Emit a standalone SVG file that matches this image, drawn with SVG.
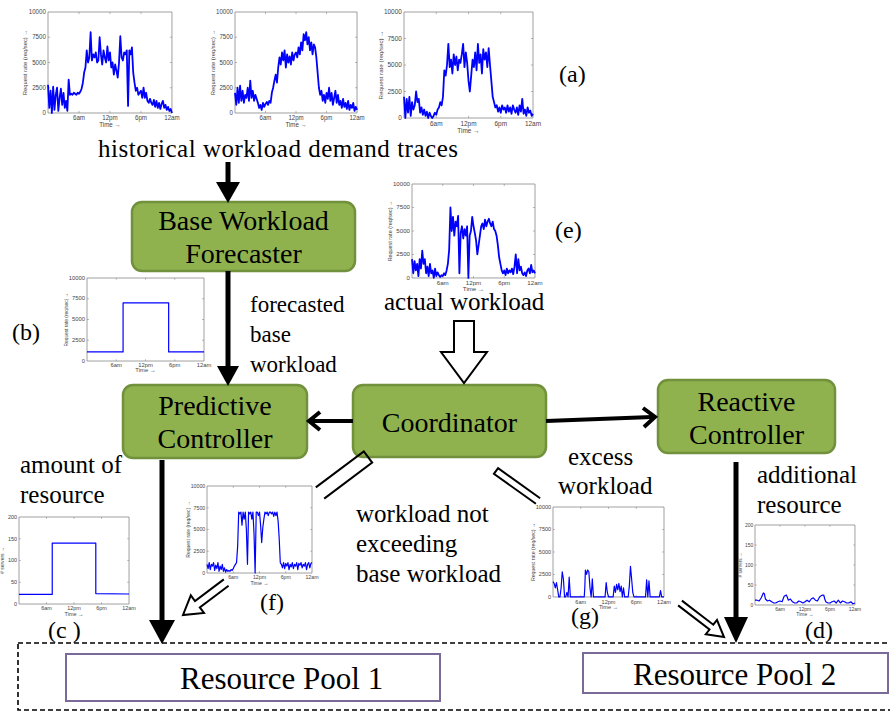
<svg xmlns="http://www.w3.org/2000/svg" xmlns:xlink="http://www.w3.org/1999/xlink" width="890" height="712" viewBox="0 0 890 712">
<style>
.t{font-family:"Liberation Serif","Times New Roman",serif;font-size:25px;fill:#000}
.bx{font-size:28px}
.pl{font-size:31px}
.box{fill:#8fb24f;stroke:#72913c;stroke-width:2.5}
.pool{fill:#fff;stroke:#7a6a9a;stroke-width:2}
.tk{font-family:"Liberation Sans",Arial,sans-serif;font-size:6px;fill:#444}
.ax{fill:#fff;stroke:#888;stroke-width:0.8;vector-effect:non-scaling-stroke}
.tick{fill:none;stroke:#888;stroke-width:0.6;vector-effect:non-scaling-stroke}
.dat{fill:none;stroke:#0000ff;stroke-width:1.8;vector-effect:non-scaling-stroke;stroke-linejoin:round}
.ds{stroke-width:1.2}
.ln{stroke:#000;stroke-width:5;fill:none}
.ch{stroke:#000;stroke-width:4;fill:none}
.hol{fill:#fff;stroke:#000;stroke-width:2;stroke-linejoin:miter}
.opn{fill:none;stroke:#000;stroke-width:2}
</style>
<defs>
<g id="frameBase">
<rect class="ax" width="120" height="95"/>
<path class="tick" d="M30,95v-2M60,95v-2M90,95v-2M30,0v2M60,0v2M90,0v2M0,23.75h2M0,47.5h2M0,71.25h2M120,23.75h-2M120,47.5h-2M120,71.25h-2"/>
<g class="tk" text-anchor="middle">
<text x="30" y="102">6am</text><text x="60" y="102">12pm</text><text x="90" y="102">6pm</text><text x="120" y="102">12am</text>
<text x="60" y="108">Time →</text>
</g>
</g>
<g id="frameR">
<use xlink:href="#frameBase"/>
<g class="tk" text-anchor="end">
<text x="-2" y="2">10000</text><text x="-2" y="25.75">7500</text><text x="-2" y="49.5">5000</text><text x="-2" y="73.25">2500</text><text x="-2" y="97">0</text>
</g>
<text class="tk" style="font-size:5.5px" text-anchor="middle" transform="translate(-20,47.5) rotate(-90)">Request rate (req/sec) →</text>
</g>
<g id="frameS">
<use xlink:href="#frameBase"/>
<g class="tk" text-anchor="end">
<text x="-2" y="2">200</text><text x="-2" y="25.75">150</text><text x="-2" y="49.5">100</text><text x="-2" y="73.25">50</text><text x="-2" y="97">0</text>
</g>
<text class="tk" style="font-size:5.5px" text-anchor="middle" transform="translate(-16,47.5) rotate(-90)"># servers →</text>
</g>
</defs>
<rect width="890" height="712" fill="#fff"/>

<!-- plots -->
<g id="plot-a1" transform="translate(48,12) scale(1.033,1.063)">
<use xlink:href="#frameR"/>
<polyline class="dat" transform="translate(0,95) scale(1.25,-0.95)" points="0,28 1,5 2,22 3,0 4,26 5,3 6,18 7,25 8,2 9,15 10,24 11,8 12,20 13,5 14,12 15,2 16,33 17,18 18,19 19,18 20,20 21,19 22,18 23,20 24,19 25,21 26,24 27,30 28,40 29,45 30,62 31,50 32,55 33,80 34,52 35,58 36,55 37,60 38,50 39,52 40,75 41,58 42,48 43,62 44,55 45,50 46,66 47,52 48,60 49,45 50,50 51,38 52,48 53,42 54,35 55,50 56,76 57,55 58,52 59,60 60,58 61,62 62,7 63,62 64,58 65,65 66,40 67,30 68,22 69,25 70,18 71,20 72,22 73,15 74,25 75,15 76,20 77,12 78,10 79,14 80,10 81,8 82,13 83,6 84,12 85,5 86,10 87,4 88,9 89,12 90,5 91,8 92,3 93,6 94,2 95,4 96,0"/>
</g>
<g id="plot-a2" transform="translate(235,12) scale(1.017,1.063)">
<use xlink:href="#frameR"/>
<polyline class="dat" transform="translate(0,95) scale(1.25,-0.95)" points="0,20 1,8 2,25 3,10 4,27 5,12 6,22 7,10 8,18 9,15 10,25 11,12 12,32 13,15 14,22 15,12 16,18 17,14 18,10 19,5 20,8 21,3 22,10 23,6 24,9 25,11 26,8 27,12 28,10 29,20 30,25 31,32 32,38 33,30 34,45 35,55 36,48 37,60 38,52 39,62 40,45 41,58 42,50 43,56 44,48 45,60 46,52 47,58 48,60 49,55 50,65 51,58 52,70 53,62 54,78 55,72 56,80 57,68 58,75 59,62 60,70 61,58 62,68 63,65 64,55 65,40 66,25 67,18 68,22 69,12 70,18 71,10 72,20 73,14 74,25 75,12 76,20 77,8 78,15 79,22 80,10 81,18 82,8 83,12 84,5 85,14 86,6 87,10 88,4 89,12 90,3 91,8 92,5 93,10 94,2 95,6 96,3"/>
</g>
<g id="plot-a3" transform="translate(404,12) scale(1.075,1.116)">
<use xlink:href="#frameR"/>
<polyline class="dat" transform="translate(0,95) scale(1.25,-0.95)" points="0,20 1,0 2,18 3,5 4,20 5,2 6,15 7,8 8,12 9,25 10,15 11,18 12,5 13,10 14,3 15,8 16,2 17,6 18,0 19,5 20,2 21,0 22,2 23,5 24,3 25,8 26,10 27,15 28,12 29,20 30,45 31,40 32,50 33,70 34,48 35,55 36,42 37,60 38,50 39,58 40,45 41,55 42,52 43,60 44,70 45,48 46,62 47,52 48,35 49,25 50,40 51,55 52,48 53,62 54,45 55,70 56,52 57,60 58,42 59,65 60,55 61,62 62,48 63,66 64,50 65,35 66,20 67,15 68,10 69,12 70,6 71,10 72,5 73,12 74,8 75,10 76,5 77,12 78,6 79,10 80,4 81,12 82,8 83,5 84,10 85,3 86,12 87,6 88,18 89,4 90,8 91,2 92,10 93,5 94,7 95,2 96,4"/>
</g>
<g id="plot-e" transform="translate(412,184) scale(1.025,0.989)">
<use xlink:href="#frameR"/>
<polyline class="dat" transform="translate(0,95) scale(1.25,-0.95)" points="0,20 1,5 2,18 3,8 4,15 5,2 6,20 7,10 8,29 9,15 10,20 11,5 12,12 13,2 14,15 15,5 16,8 17,0 18,10 19,2 20,6 21,3 22,1 23,3 24,2 25,5 26,3 27,8 28,15 29,30 30,75 31,50 32,65 33,45 34,60 35,55 36,66 37,5 38,48 39,55 40,42 41,52 42,45 43,55 44,0 45,45 46,50 47,65 48,55 49,48 50,40 51,25 52,35 53,45 54,55 55,58 56,52 57,62 58,55 59,60 60,63 61,58 62,55 63,60 64,52 65,50 66,45 67,35 68,22 69,15 70,8 71,5 72,8 73,3 74,10 75,5 76,8 77,6 78,10 79,4 80,12 81,25 82,5 83,20 84,8 85,12 86,5 87,3 88,6 89,2 90,8 91,10 92,5 93,14 94,6 95,8 96,5"/>
</g>
<g id="plot-b" transform="translate(87,278) scale(0.975,0.874)">
<use xlink:href="#frameR"/>
<polyline class="dat ds" transform="translate(0,95) scale(1.25,-0.95)" points="0,11 29.6,11 29.6,70 67,70 67,11 96,11"/>
</g>
<g id="plot-c" transform="translate(19,517) scale(0.917,0.916)">
<use xlink:href="#frameS"/>
<polyline class="dat ds" transform="translate(0,95) scale(1.25,-0.475)" points="0,22 29,22 29,140 67,140 67,24 96,23"/>
</g>
<g id="plot-f" transform="translate(207,486) scale(0.875,0.916)">
<use xlink:href="#frameR"/>
<polyline class="dat ds" transform="translate(0,95) scale(1.25,-0.95)" points="0,10 1,5 2,12 3,4 4,10 5,8 6,12 7,3 8,9 9,5 10,12 11,2 12,8 13,4 14,10 15,2 16,6 17,1 18,4 19,2 20,3 21,2 22,4 23,3 24,5 25,8 26,10 27,12 28,30 29,70 30,68 31,70 32,55 33,70 34,62 35,70 36,50 37,10 38,70 39,68 40,70 41,62 42,70 43,45 44,0 45,70 46,70 47,66 48,70 49,55 50,35 51,52 52,62 53,70 54,68 55,70 56,66 57,70 58,70 59,68 60,70 61,65 62,70 63,66 64,70 65,60 66,40 67,12 68,10 69,6 70,12 71,5 72,11 73,8 74,12 75,4 76,10 77,7 78,12 79,5 80,10 81,8 82,12 83,4 84,11 85,9 86,12 87,6 88,10 89,8 90,12 91,4 92,10 93,12 94,6 95,11 96,12"/>
</g>
<g id="plot-g" transform="translate(553,507) scale(0.925,0.947)">
<use xlink:href="#frameR"/>
<polyline class="dat ds" transform="translate(0,95) scale(1.25,-0.95)" points="0,17 1,15 2,10 3,16 4,8 5,0 6,0 7,10 8,28 9,20 10,0 11,0 12,5 13,0 14,22 15,0 16,0 27,0 27.5,10 28,30 29,25 30,30 31,28 32,10 33,0 34,20 35,0 45,0 46,16 47,5 48,0 52,0 53,12 54,5 55,14 56,8 57,15 58,6 59,12 60,0 61,10 62,0 65,0 66,12 67,34 68,20 69,5 70,0 80,0 81,19 82,0 83,18 84,0 92,0 93,7 94,0 96,0"/>
</g>
<g id="plot-d" transform="translate(755,525) scale(0.833,0.842)">
<use xlink:href="#frameS"/>
<polyline class="dat ds" transform="translate(0,95) scale(1.25,-0.475)" points="0,12 2,12 4,10 6,18 8,30 9,28 10,15 12,10 14,12 16,8 18,5 20,5 22,8 24,10 26,8 28,22 30,25 31,20 32,12 34,15 36,8 38,5 40,5 42,10 44,8 46,5 48,8 50,12 52,8 54,15 56,18 58,12 60,10 62,20 64,24 66,25 67,15 68,8 70,5 72,5 74,8 76,10 78,5 80,12 82,5 84,10 86,8 88,5 90,5 92,8 94,3 96,5"/>
</g>

<!-- nodes -->
<g id="node-forecaster">
<rect class="box" x="132" y="202" width="223" height="69" rx="10"/>
<text class="t bx" x="243.5" y="230" text-anchor="middle">Base Workload</text>
<text class="t bx" x="243.5" y="263" text-anchor="middle">Forecaster</text>
</g>
<g id="node-predictive">
<rect class="box" x="123" y="385" width="184" height="73" rx="10"/>
<text class="t bx" x="215" y="415" text-anchor="middle">Predictive</text>
<text class="t bx" x="215" y="448" text-anchor="middle">Controller</text>
</g>
<g id="node-coordinator">
<rect class="box" x="353" y="385" width="193" height="72" rx="10"/>
<text class="t bx" x="449.5" y="432" text-anchor="middle">Coordinator</text>
</g>
<g id="node-reactive">
<rect class="box" x="658" y="380" width="177" height="73" rx="10"/>
<text class="t bx" x="746.5" y="411" text-anchor="middle">Reactive</text>
<text class="t bx" x="746.5" y="444" text-anchor="middle">Controller</text>
</g>
<g id="node-pools">
<rect x="18" y="643" width="880" height="67" fill="none" stroke="#000" stroke-width="1.6" stroke-dasharray="5,3"/>
</g>
<g id="node-pool1">
<rect class="pool" x="66" y="654" width="374" height="47"/>
<text class="t pl" x="180" y="689">Resource Pool 1</text>
</g>
<g id="node-pool2">
<rect class="pool" x="583" y="653" width="305" height="40"/>
<text class="t pl" x="633" y="685">Resource Pool 2</text>
</g>

<!-- connectors -->
<g id="connectors">
<line class="ln" x1="228" y1="162" x2="228" y2="186"/>
<polygon points="216,182 240,182 228,203"/>
<line class="ln" x1="228" y1="271" x2="228" y2="368"/>
<polygon points="217,366 239,366 228,386"/>
<line class="ch" x1="353" y1="421" x2="311" y2="421"/>
<polyline class="ch" points="320,412 309,421 320,430"/>
<line class="ch" x1="546" y1="421" x2="652" y2="417"/>
<polyline class="ch" points="643,408 655,417 644,427"/>
<polygon class="hol" points="454,321 474,321 474,352 487,352 464,383 441,352 454,352"/>
<line class="ln" x1="162" y1="460" x2="162" y2="622"/>
<polygon points="149,620 175,620 162,644"/>
<line class="ln" x1="736" y1="462" x2="736" y2="618"/>
<polygon points="724,617 748,617 736,643"/>
<polyline class="opn" points="315.8,487.4 363.8,451.4 372.2,462.6 324.2,498.6"/>
<polyline class="opn" points="223.8,579.4 195.0,601.0 190.8,595.4 183,615 204.0,613.0 199.8,607.4 228.6,585.8"/>
<polyline class="opn" points="540.1,498.2 498.1,468.2 493.9,473.8 535.9,503.8"/>
<polyline class="opn" points="681.9,600.6 713.3,624.7 717.0,620.0 724,637 705.8,634.2 709.5,629.5 678.1,605.4"/>
</g>

<!-- labels -->
<g id="labels">
<text class="t" x="98" y="157" textLength="360" lengthAdjust="spacing">historical workload demand traces</text>
<text class="t" x="559" y="82" style="font-size:24px">(a)</text>
<text class="t" x="555" y="238" style="font-size:24px">(e)</text>
<text class="t" x="384" y="310">actual workload</text>
<text class="t" x="12" y="340" style="font-size:24px">(b)</text>
<text class="t" x="250" y="312" style="font-size:23px">forecasted</text>
<text class="t" x="250" y="342" style="font-size:23px">base</text>
<text class="t" x="250" y="372" style="font-size:23px">workload</text>
<text class="t" x="20" y="473">amount of</text>
<text class="t" x="20" y="503">resource</text>
<text class="t" x="48" y="638" style="font-size:24px">(c )</text>
<text class="t" x="260" y="610" style="font-size:24px">(f)</text>
<text class="t" x="356" y="522">workload not</text>
<text class="t" x="356" y="552">exceeding</text>
<text class="t" x="356" y="582">base workload</text>
<text class="t" x="568" y="465">excess</text>
<text class="t" x="558" y="494">workload</text>
<text class="t" x="571" y="624" style="font-size:24px">(g)</text>
<text class="t" x="757" y="483">additional</text>
<text class="t" x="757" y="513">resource</text>
<text class="t" x="805" y="638" style="font-size:24px">(d)</text>
</g>
</svg>
